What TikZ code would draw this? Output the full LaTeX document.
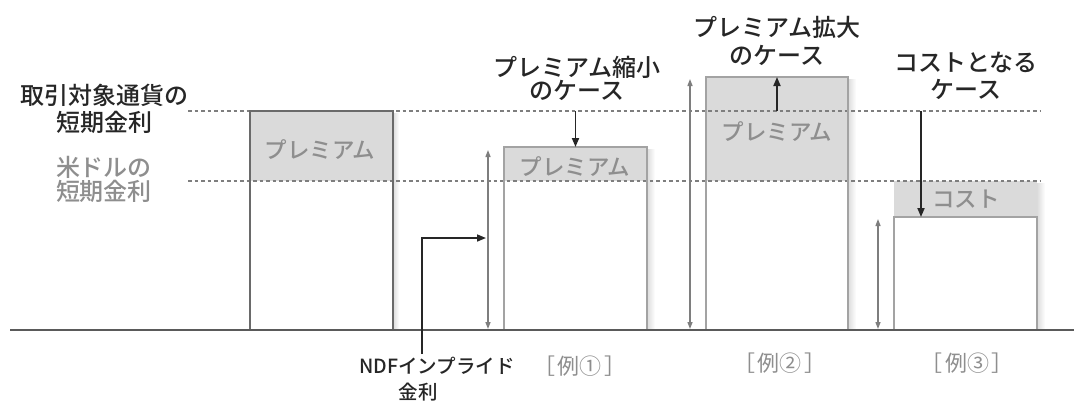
\documentclass[tikz,border=0pt]{standalone}
\usepackage{fontspec}
\setmainfont{Noto Sans CJK JP}
\newfontfamily\jpmed{Noto Sans CJK JP Medium}
\usetikzlibrary{arrows.meta}
\definecolor{bandgray}{HTML}{DADADA}
\definecolor{edgegray}{HTML}{A3A3A3}
\definecolor{darkedge}{HTML}{6A6A6A}
\definecolor{txtgray}{HTML}{8E8E8E}
\definecolor{linegray}{HTML}{7E7E7E}
\definecolor{basegray}{HTML}{5A5A5A}
\tikzset{
  barbox/.style={draw=edgegray, line width=2pt, inner sep=0pt, outer sep=0pt, anchor=north west},
  barboxdark/.style={draw=darkedge, line width=2.4pt, inner sep=0pt, outer sep=0pt, anchor=north west},
  band/.style={fill=bandgray, draw=none},
  shade/.style={left color=black!14, right color=white, draw=none},
  level/.style={draw=linegray, line width=1.6pt, dash pattern=on 3.5pt off 3pt},
  baseline/.style={draw=basegray, line width=2.2pt},
  blkarrow/.style={draw=black!85, line width=1.8pt, -{Triangle[length=9pt,width=7pt]}},
  grayarrow/.style={draw=linegray, line width=1.3pt, {Triangle[length=7pt,width=5pt]}-{Triangle[length=7pt,width=5pt]}},
  blacklabel/.style={font=\fontsize{24}{27}\selectfont\jpmed, text=black!85, align=center, inner sep=0pt},
  graylabel/.style={font=\fontsize{24}{24}\selectfont\jpmed, text=txtgray, align=center, inner sep=0pt},
  boxtext/.style={font=\fontsize{22.5}{24}\selectfont\jpmed, text=txtgray, inner sep=0pt},
  exlabel/.style={font=\fontsize{22}{24}\selectfont, text=txtgray, inner sep=0pt},
  ndflabel/.style={font=\fontsize{19.5}{22}\selectfont\jpmed, text=black!85, inner sep=0pt},
}
\begin{document}
\begin{tikzpicture}[x=1pt,y=-1pt]
\useasboundingbox (0,0) rectangle (1074,405);
\fill[white] (0,0) rectangle (1074,405);

% shadows
\shade[shade] (393,113) rectangle (399,330);
\shade[shade] (647,149) rectangle (655,330);
\shade[shade] (848,79) rectangle (856,330);
\shade[shade] (1037,183) rectangle (1045,330);

% gray bands
\fill[band] (250,111) rectangle (393,181);
\fill[band] (504,147) rectangle (647,181);
\fill[band] (706,77) rectangle (848,181);
\fill[band] (894,181) rectangle (1037,217);

% level lines
\coordinate (l1a) at (188,111);
\coordinate (l1b) at (1040,111);
\coordinate (l2a) at (188,181);
\coordinate (l2b) at (1040,181);
\draw[level] (l1a) -- (l1b);
\draw[level] (l2a) -- (l2b);

% boxes
\node[barboxdark, minimum width=143pt, minimum height=219pt] (b1) at (250,111) {};
\node[barbox, minimum width=143pt, minimum height=183pt] (b2) at (504,147) {};
\node[barbox, minimum width=142pt, minimum height=253pt] (b3) at (706,77) {};
\node[barbox, minimum width=143pt, minimum height=113pt] (b4) at (894,217) {};

% baseline
\coordinate (g0) at (10,330);
\coordinate (g1) at (1074,330);
\draw[baseline] (g0) -- (g1);

% box texts
\node[boxtext] (t1) at (320,150) {プレミアム};
\node[boxtext] (t2) at (575,167) {プレミアム};
\node[boxtext] (t3) at (777,132) {プレミアム};
\node[boxtext] (t4) at (966,199) {コスト};

% left labels
\node[blacklabel] (lab1) at (104,109) {取引対象通貨の\\短期金利};
\node[graylabel] (lab2) at (104,179) {米ドルの\\短期金利};

% top labels
\node[blacklabel, font=\fontsize{24}{23}\selectfont\jpmed] (c1) at (577,78) {プレミアム縮小\\のケース};
\node[blacklabel, font=\fontsize{24}{28}\selectfont\jpmed] (c2) at (777,41) {プレミアム拡大\\のケース};
\node[blacklabel, font=\fontsize{24}{27}\selectfont\jpmed] (c3) at (966,76) {コストとなる\\ケース};

% case arrows
\coordinate (p1) at (575.5,111);
\coordinate (p2) at (777,111);
\coordinate (p3) at (921,111);
\draw[blkarrow] (p1) -- (b2.north);
\draw[blkarrow] (p2) -- (b3.north);
\draw[blkarrow] (p3) -- (p3 |- b4.north);

% height arrows
\coordinate (q1t) at (488,150);
\coordinate (q1b) at (488,329);
\coordinate (q2t) at (690,79);
\coordinate (q2b) at (690,329);
\coordinate (q3t) at (878,219);
\coordinate (q3b) at (878,329);
\draw[grayarrow] (q1t) -- (q1b);
\draw[grayarrow] (q2t) -- (q2b);
\draw[grayarrow] (q3t) -- (q3b);

% NDF label and arrow
\node[ndflabel] (ndf1) at (437,366) {NDFインプライド};
\node[ndflabel] (ndf2) at (418,392) {金利};
\coordinate (n0) at (422,354);
\coordinate (n1) at (486,238);
\draw[blkarrow, line width=1.6pt] (n0) |- (n1);

% example labels
\node[exlabel] (e1) at (580,366) {［\hspace{3pt}例①\hspace{3pt}］};
\node[exlabel] (e2) at (780,363) {［\hspace{3pt}例②\hspace{3pt}］};
\node[exlabel] (e3) at (967,363) {［\hspace{3pt}例③\hspace{3pt}］};
\end{tikzpicture}
\end{document}
